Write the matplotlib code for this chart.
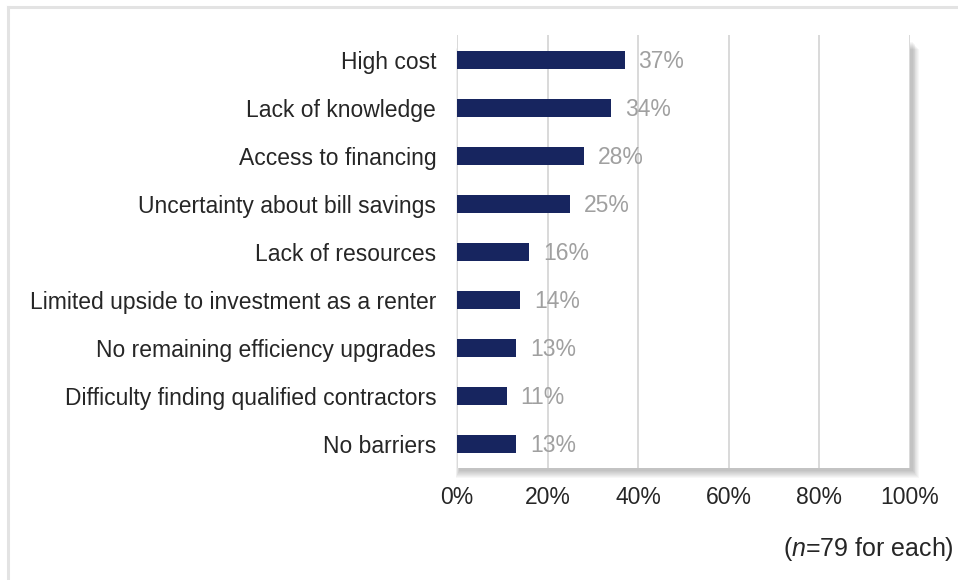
import matplotlib
matplotlib.use("Agg")
import matplotlib.pyplot as plt
from matplotlib.patches import Rectangle
from matplotlib.ticker import FuncFormatter

plt.rcParams['font.family'] = ['Liberation Sans', 'DejaVu Sans']
plt.rcParams['mathtext.fontset'] = 'custom'
plt.rcParams['mathtext.rm'] = 'Liberation Sans'
plt.rcParams['mathtext.it'] = 'Liberation Sans:italic'

categories = [
    "High cost",
    "Lack of knowledge",
    "Access to financing",
    "Uncertainty about bill savings",
    "Lack of resources",
    "Limited upside to investment as a renter",
    "No remaining efficiency upgrades",
    "Difficulty finding qualified contractors",
    "No barriers",
]
values = [37, 34, 28, 25, 16, 14, 13, 11, 13]
x_ticks = [0, 20, 40, 60, 80, 100]

W, H = 958, 580
FS = 16.5
fig = plt.figure(figsize=(W / 100, H / 100), dpi=100)
fig.patch.set_facecolor('white')

# axes box in pixels
L, R, T, B = 457, 910, 35, 468
ax = fig.add_axes([L / W, 1 - B / H, (R - L) / W, (B - T) / H])
ax.set_facecolor('white')
ax.set_zorder(1)

# soft shadow behind plot area
for k in range(8):
    rect = Rectangle(((L + 2 - k * 0.5) / W, 1 - (B + 3 + k) / H),
                     (R - L + 1 + k * 1.3) / W, (B - T - 4) / H,
                     transform=fig.transFigure, facecolor='black',
                     alpha=0.03, edgecolor='none', zorder=0)
    fig.patches.append(rect)

# figure border (left and top)
fig.add_artist(plt.Line2D([8 / W, 8 / W], [0, 1 - 7 / H], transform=fig.transFigure,
                          color='#e3e3e3', lw=2.2))
fig.add_artist(plt.Line2D([8 / W, 1], [1 - 7 / H, 1 - 7 / H], transform=fig.transFigure,
                          color='#e3e3e3', lw=2.2))

y = list(range(len(categories)))
ax.barh(y, values, height=0.36, color='#17255f', zorder=3)
for yi, v in zip(y, values):
    ax.annotate(f"{v}%", xy=(v, yi), xytext=(10, -1), textcoords='offset points',
                va='center', ha='left', color='#a0a0a0', fontsize=FS, zorder=4)

ax.set_xlim(0, 100)
ax.set_ylim(8.5, -0.52)
ax.set_xticks(x_ticks)
ax.xaxis.set_major_formatter(FuncFormatter(lambda v, p: f"{int(v)}%"))
ax.set_yticks(y)
ax.set_yticklabels(categories)
ax.tick_params(axis='both', length=0, labelsize=FS, colors='#262626')
ax.tick_params(axis='y', pad=15)
ax.tick_params(axis='x', pad=13)
ax.grid(axis='x', color='#d9d9d9', lw=1.4, zorder=0)
ax.set_axisbelow(True)
for s in ax.spines.values():
    s.set_visible(False)

fig.text(954 / W, 1 - 549 / H, r"($\it{n}$=79 for each)", fontsize=18,
         color='#262626', ha='right', va='center')

fig.savefig("out.png", dpi=100)
